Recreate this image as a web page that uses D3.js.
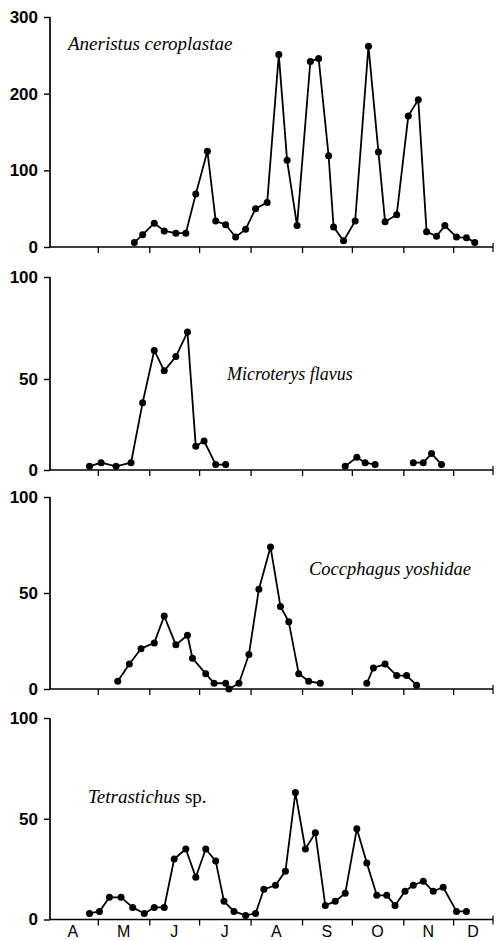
<!DOCTYPE html>
<html>
<head>
<meta charset="utf-8">
<script src="https://cdn.jsdelivr.net/npm/d3@7/dist/d3.min.js"></script>
<style>
  html, body { margin: 0; padding: 0; background: #fff; }
  svg { display: block; }
</style>
</head>
<body>
<svg id="chart" width="497" height="941"></svg>
<script>
// ---------- DATA (days counted from 1 April) ----------
const monthLabels = ["A", "M", "J", "J", "A", "S", "O", "N", "D"];
const monthStartDays = [0, 30, 61, 91, 122, 153, 183, 214, 244];
const axisEndDay = 268;

const aneristusTicks = [0, 100, 200, 300];
const smallTicks = [0, 50, 100];

const aneristusDays = [52, 57, 64, 70, 77, 83, 89, 96, 101, 107, 113, 119, 125, 132, 139, 144, 150, 158, 163, 169, 172, 178, 185, 193, 199, 203, 210, 217, 223, 228, 234, 239, 246, 252, 257];
const aneristusCounts = [6, 16, 31, 21, 18, 18, 69, 125, 34, 29, 13, 23, 50, 58, 251, 113, 28, 242, 246, 119, 26, 8, 34, 262, 124, 33, 42, 171, 192, 20, 14, 28, 13, 12, 6];

const microterysDays = [25, 32, 41, 50, 57, 64, 70, 77, 84, 89, 94, 101, 107, 140, 179, 186, 191, 197, 208, 220, 226, 231, 237];
const microterysCounts = [2, 4, 2, 4, 37, 64, 54, 61, 73, 13, 16, 3, 3, null, 2, 7, 4, 3, null, 4, 4, 9, 3];

const coccphagusDays = [42, 49, 56, 64, 70, 77, 84, 87, 95, 100, 107, 109, 115, 121, 127, 134, 140, 145, 151, 157, 164, 178, 192, 196, 203, 210, 216, 222];
const coccphagusCounts = [4, 13, 21, 24, 38, 23, 28, 16, 8, 3, 3, 0, 3, 18, 52, 74, 43, 35, 8, 4, 3, null, 3, 11, 13, 7, 7, 2];

const tetrastichusDays = [25, 31, 37, 44, 51, 58, 64, 70, 76, 83, 89, 95, 101, 106, 112, 119, 125, 130, 137, 143, 149, 155, 161, 167, 173, 179, 186, 192, 198, 204, 209, 215, 220, 226, 232, 238, 246, 252];
const tetrastichusCounts = [3, 4, 11, 11, 6, 3, 6, 6, 30, 35, 21, 35, 29, 9, 4, 2, 3, 15, 17, 24, 63, 35, 43, 7, 9, 13, 45, 28, 12, 12, 7, 14, 17, 19, 14, 16, 4, 4];

// ---------- LAYOUT ----------
const svg = d3.select("#chart");
const axisX = 50;
const x = d3.scaleLinear().domain([0, axisEndDay]).range([48, 493]);

const panels = [
  { italic: "Aneristus ceroplastae", roman: "",
    days: aneristusDays, counts: aneristusCounts, ticks: aneristusTicks,
    y: d3.scaleLinear().domain([0, 300]).range([247, 17]),
    label: [68, 50], size: 19 },
  { italic: "Microterys flavus", roman: "",
    days: microterysDays, counts: microterysCounts, ticks: smallTicks,
    y: d3.scaleLinear().domain([0, 50, 100]).range([470, 379, 277]),
    label: [227, 380], size: 18 },
  { italic: "Coccphagus yoshidae", roman: "",
    days: coccphagusDays, counts: coccphagusCounts, ticks: smallTicks,
    y: d3.scaleLinear().domain([0, 100]).range([689, 497]),
    label: [309, 575], size: 18.5 },
  { italic: "Tetrastichus", roman: " sp.",
    days: tetrastichusDays, counts: tetrastichusCounts, ticks: smallTicks,
    y: d3.scaleLinear().domain([0, 100]).range([919.5, 718]),
    label: [88, 803], size: 19 }
];

panels.forEach((p, i) => {
  const g = svg.append("g");
  const y0 = p.y(0);
  const yTop = p.y(p.ticks[p.ticks.length - 1]);

  // y axis
  const yAxis = d3.axisLeft(p.y).tickValues(p.ticks).tickSize(6).tickPadding(6).tickFormat(d3.format("d"));
  const ya = g.append("g").attr("transform", `translate(${axisX},0)`).call(yAxis);
  ya.select(".domain").remove();
  ya.append("line").attr("x1", 0).attr("x2", 0).attr("y1", yTop).attr("y2", y0)
    .attr("stroke", "#000").attr("stroke-width", 1.7);
  ya.selectAll(".tick line").attr("stroke", "#000").attr("stroke-width", 1.4);
  ya.selectAll(".tick text")
    .attr("fill", "#000")
    .style("font-family", "'Liberation Sans', Arial, sans-serif")
    .style("font-weight", "bold")
    .style("font-size", "17px");

  // x axis
  const xAxis = d3.axisBottom(x).tickValues(monthStartDays.slice(1)).tickSize(6).tickFormat("");
  const xa = g.append("g").attr("transform", `translate(0,${y0})`).call(xAxis);
  xa.select(".domain").remove();
  xa.append("line").attr("x1", axisX).attr("x2", x(axisEndDay)).attr("y1", 0).attr("y2", 0)
    .attr("stroke", "#000").attr("stroke-width", 1.7);
  xa.append("line").attr("x1", x(axisEndDay)).attr("x2", x(axisEndDay)).attr("y1", -4).attr("y2", 5)
    .attr("stroke", "#000").attr("stroke-width", 1.2);
  xa.selectAll(".tick line").attr("stroke", "#000").attr("stroke-width", 1.3);

  if (i === panels.length - 1) {
    const mids = monthLabels.map((m, k) => {
      const a = monthStartDays[k];
      const b = k + 1 < monthStartDays.length ? monthStartDays[k + 1] : axisEndDay;
      return { m, d: (a + b) / 2 };
    });
    g.selectAll("text.month").data(mids).enter().append("text")
      .attr("class", "month")
      .attr("x", d => x(d.d))
      .attr("y", 937)
      .attr("text-anchor", "middle")
      .style("font-family", "'Liberation Sans', Arial, sans-serif")
      .style("font-size", "16px")
      .text(d => d.m);
  }

  // data line + dots
  const pts = p.days.map((d, k) => ({ d, v: p.counts[k] }));
  const line = d3.line().defined(d => d.v != null).x(d => x(d.d)).y(d => p.y(d.v));
  g.append("path").datum(pts).attr("d", line)
    .attr("fill", "none").attr("stroke", "#000").attr("stroke-width", 1.8)
    .attr("stroke-linejoin", "round");
  g.selectAll("circle").data(pts.filter(d => d.v != null)).enter().append("circle")
    .attr("cx", d => x(d.d)).attr("cy", d => p.y(d.v)).attr("r", 3.5).attr("fill", "#000");

  // species label
  const t = g.append("text")
    .attr("x", p.label[0]).attr("y", p.label[1])
    .style("font-family", "'Liberation Serif', 'Times New Roman', serif")
    .style("font-size", p.size + "px");
  t.append("tspan").style("font-style", "italic").text(p.italic);
  if (p.roman) t.append("tspan").text(p.roman);
});
</script>
</body>
</html>
